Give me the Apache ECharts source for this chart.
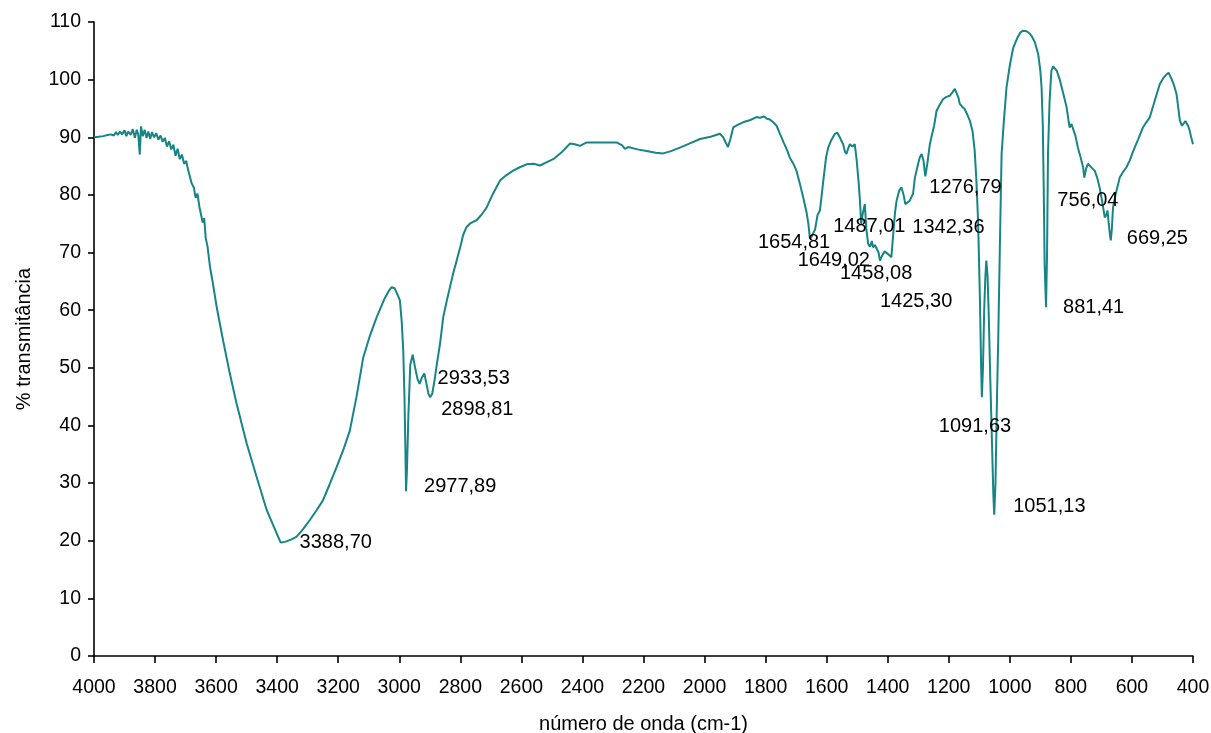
<!DOCTYPE html>
<html>
<head>
<meta charset="utf-8">
<title>Espectro FTIR</title>
<script src="https://cdn.jsdelivr.net/npm/echarts@6/dist/echarts.min.js"></script>
<style>
  html, body { margin: 0; padding: 0; background: #ffffff; }
  #chart { width: 1211px; height: 733px; }
</style>
</head>
<body>
<div id="chart"></div>
<script>
// Espectro de infravermelho: número de onda (cm-1) e % de transmitância
const wavenumbers = [
  4000, 3985, 3970, 3955, 3945, 3935, 3928, 3922, 3915, 3908, 3900, 3894, 3888, 3880, 3873, 3866,
  3860, 3855, 3850, 3846, 3840, 3834, 3828, 3822, 3816, 3810, 3803, 3796, 3789, 3782, 3775, 3768,
  3761, 3754, 3747, 3740, 3733, 3726, 3719, 3712, 3705, 3698, 3692, 3686, 3680, 3673, 3667, 3661,
  3655, 3649, 3644, 3639, 3634, 3628, 3620, 3610, 3598, 3577, 3555, 3533, 3500, 3467, 3434, 3402,
  3388.70, 3374, 3355, 3336, 3315, 3293, 3272, 3250, 3228, 3205, 3183, 3162, 3140, 3118, 3096, 3074,
  3050, 3035, 3025, 3015, 3005, 2998, 2992, 2987, 2983, 2980, 2977.89, 2975, 2970, 2964, 2956, 2948,
  2940, 2933.53, 2926, 2918, 2910, 2904, 2898.81, 2892, 2884, 2876, 2867, 2860, 2856, 2845, 2834, 2823,
  2812, 2800, 2791, 2780, 2769, 2755, 2747, 2730, 2714, 2695, 2670, 2650, 2627, 2605, 2583, 2560,
  2539, 2520, 2496, 2470, 2450, 2441, 2425, 2408, 2386, 2350, 2320, 2288, 2270, 2261, 2250, 2245,
  2220, 2190, 2160, 2136, 2110, 2081, 2050, 2015, 1980, 1950, 1939, 1930, 1923, 1915, 1906, 1890,
  1874, 1850, 1830, 1819, 1805, 1795, 1786, 1775, 1764, 1753, 1740, 1730, 1721, 1710, 1699, 1688,
  1677, 1666, 1660, 1654.81, 1649.02, 1644, 1638, 1630, 1622, 1612, 1602, 1595, 1585, 1573, 1565, 1557,
  1551, 1546, 1540, 1535, 1530, 1524, 1516, 1508, 1502, 1495, 1491, 1487.01, 1481, 1475, 1470, 1464,
  1458.08, 1452, 1448, 1442, 1437, 1430, 1425.30, 1418, 1410, 1404, 1396, 1388, 1382, 1376, 1371, 1362,
  1355, 1348, 1342.36, 1336, 1328, 1317, 1311, 1300, 1295, 1289, 1283, 1276.79, 1270, 1262, 1257, 1248,
  1240, 1230, 1219, 1208, 1197, 1188, 1180, 1174, 1168, 1164, 1156, 1148, 1140, 1131, 1122, 1115,
  1110, 1104, 1098, 1094, 1091.63, 1088, 1084, 1080, 1077, 1073, 1069, 1064, 1058, 1054, 1051.13, 1047,
  1042, 1038, 1033, 1027, 1020, 1011, 1000, 989, 975, 965, 957, 945, 935, 929, 918, 907,
  900, 896, 892, 889, 886, 881.41, 878, 875, 870, 864, 858, 853, 846, 837, 826, 814,
  808, 804, 798, 793, 785, 777, 768, 760, 756.04, 750, 744, 738, 730, 722, 714, 706,
  698, 689, 684, 680, 676, 672, 669.25, 666, 662, 654, 640, 629, 618, 607, 596, 580,
  564, 553, 542, 530, 520, 509, 498, 487, 480, 470, 462, 454, 448, 443, 436, 431,
  425, 420, 416, 411, 406, 400
];

const transmittance = [
  90.0, 90.1, 90.2, 90.4, 90.5, 90.3, 90.9, 90.4, 91.0, 90.5, 91.2, 90.2, 91.0, 90.4, 91.4, 89.9,
  91.3, 90.5, 87.0, 91.9, 90.2, 91.3, 89.9, 91.0, 89.7, 90.9, 90.0, 90.7, 89.6, 90.3, 89.2, 89.9,
  88.4, 89.3, 87.9, 88.7, 86.8, 88.0, 86.2, 87.0, 85.4, 85.9, 84.4, 83.2, 82.0, 81.3, 79.5, 80.2,
  78.0, 77.8, 75.2, 76.0, 72.5, 71.0, 67.5, 64.5, 60.5, 54.7, 49.0, 43.8, 36.9, 31.0, 25.3, 21.3,
  19.7, 19.8, 20.2, 20.7, 22.0, 23.6, 25.2, 27.0, 29.8, 32.8, 35.8, 39.1, 45.0, 51.8, 55.6, 58.8,
  61.8, 63.3, 64.0, 63.8, 62.6, 61.7, 58.0, 53.0, 45.0, 36.0, 28.6, 32.0, 42.0, 50.5, 52.3, 50.0,
  48.0, 47.2, 48.3, 49.0, 47.0, 45.4, 44.9, 45.5, 48.0, 51.0, 54.0, 57.0, 58.8, 61.5, 64.0, 66.5,
  68.6, 71.0, 73.0, 74.4, 75.0, 75.4, 75.6, 76.6, 77.8, 80.0, 82.5, 83.4, 84.2, 84.8, 85.3, 85.4,
  85.1, 85.6, 86.2, 87.3, 88.4, 88.9, 88.8, 88.5, 89.1, 89.1, 89.1, 89.1, 88.6, 88.0, 88.3, 88.3,
  87.9, 87.6, 87.3, 87.2, 87.6, 88.2, 88.9, 89.7, 90.1, 90.6, 90.0, 89.0, 88.3, 89.8, 91.7, 92.2,
  92.6, 93.0, 93.5, 93.4, 93.6, 93.2, 93.1, 92.6, 92.0, 90.6, 89.0, 87.8, 86.5, 85.5, 84.2, 82.0,
  79.6, 77.0, 75.0, 72.4, 72.8, 72.6, 74.0, 76.5, 77.3, 82.0, 86.5, 88.2, 89.5, 90.6, 90.8, 90.0,
  89.3, 88.8, 87.5, 87.1, 88.0, 88.8, 88.4, 88.8, 86.2, 82.0, 79.0, 75.0, 77.0, 78.4, 74.0, 71.5,
  71.0, 72.0, 70.9, 71.3, 71.5, 70.0, 68.6, 69.5, 70.2, 70.3, 69.6, 69.2, 73.2, 77.0, 79.0, 80.8,
  81.3, 80.0, 78.4, 78.3, 79.0, 80.2, 83.0, 85.5, 86.5, 87.1, 86.0, 83.2, 85.5, 88.8, 90.0, 92.0,
  94.6, 95.6, 96.6, 97.0, 97.2, 97.8, 98.4, 98.2, 96.8, 95.8, 95.3, 94.9, 94.0, 92.9, 91.0, 87.6,
  83.0, 75.5, 62.0, 50.0, 44.9, 50.0, 60.0, 66.0, 68.6, 66.0, 59.0, 48.0, 36.0, 28.0, 24.5, 30.0,
  45.0, 55.0, 70.0, 87.1, 92.5, 98.6, 102.5, 105.5, 107.3, 108.2, 108.5, 108.4, 108.0, 107.6, 106.5, 104.4,
  101.5, 98.6, 92.0, 81.3, 68.0, 60.5, 70.0, 87.1, 96.0, 101.5, 102.3, 102.1, 101.5, 100.1, 97.8, 95.2,
  93.0, 91.7, 92.3, 92.0, 90.2, 88.2, 86.5, 84.8, 83.0, 84.6, 85.4, 85.3, 84.6, 84.2, 83.0, 81.3,
  79.0, 76.1, 76.5, 77.3, 75.0, 73.0, 72.1, 74.0, 77.8, 80.0, 83.0, 84.0, 84.8, 86.0, 87.6, 89.6,
  91.7, 92.6, 93.4, 95.5, 97.3, 99.2, 100.2, 100.9, 101.2, 100.1, 99.0, 97.5, 95.0, 92.9, 92.0, 92.3,
  92.8, 92.9, 92.0, 91.2, 90.0, 88.8
];

// Bandas identificadas (cm-1)
const peakWavenumbers = [
  3388.70, 2977.89, 2933.53, 2898.81, 1654.81, 1649.02, 1487.01, 1458.08,
  1425.30, 1342.36, 1276.79, 1091.63, 1051.13, 881.41, 756.04, 669.25
];

// Deslocamento de cada rótulo em relação à sua banda (px)
const peakLabelOffsets = [
  [19, 0], [18, -5], [18, -5], [11, 12], [-52, 4], [-14, 24], [-28, 3], [-30, 27],
  [0, 41], [7, 23], [4, 11], [-43, 29], [19, -8], [17, 0], [-27, 23], [16, -2]
];

const xTicks = { min: 400, max: 4000, step: 200 };
const yTicks = { min: 0, max: 110, step: 10 };

const spectrum = wavenumbers.map((w, i) => [w, transmittance[i]]);

const peakPoints = peakWavenumbers.map((w, i) => {
  const idx = wavenumbers.indexOf(w);
  return {
    value: [w, transmittance[idx]],
    label: { offset: peakLabelOffsets[i] }
  };
});

const fontFamily = '"Liberation Sans", Arial, Helvetica, sans-serif';
const textColor = '#000';

const chart = echarts.init(document.getElementById('chart'), null, { renderer: 'canvas' });

chart.setOption({
  animation: false,
  backgroundColor: '#ffffff',
  grid: {
    left: 94, right: 18, top: 22, bottom: 77,
    containLabel: false,
    outerBoundsMode: 'none'
  },
  xAxis: {
    type: 'value',
    inverse: true,
    min: xTicks.min,
    max: xTicks.max,
    interval: xTicks.step,
    name: 'número de onda (cm-1)',
    nameLocation: 'middle',
    nameGap: 58,
    nameTextStyle: { fontFamily, fontSize: 20, color: textColor },
    axisLine: { show: true, onZero: false, lineStyle: { color: '#000', width: 1.6 } },
    axisTick: { show: true, length: 7, lineStyle: { color: '#000', width: 1.6 } },
    axisLabel: {
      fontFamily, fontSize: 19.5, color: textColor, margin: 22,
      formatter: v => String(v)
    },
    splitLine: { show: false }
  },
  yAxis: {
    type: 'value',
    min: yTicks.min,
    max: yTicks.max,
    interval: yTicks.step,
    name: '% transmitância',
    nameLocation: 'middle',
    nameGap: 60,
    nameTextStyle: { fontFamily, fontSize: 20, color: textColor },
    axisLine: { show: true, lineStyle: { color: '#000', width: 1.6 } },
    axisTick: { show: true, length: 6, lineStyle: { color: '#000', width: 1.6 } },
    axisLabel: {
      fontFamily, fontSize: 19.5, color: textColor, margin: 13,
      formatter: v => String(v)
    },
    splitLine: { show: false }
  },
  series: [
    {
      name: 'espectro',
      type: 'line',
      data: spectrum,
      showSymbol: false,
      symbol: 'none',
      lineStyle: { color: '#178585', width: 2 },
      emphasis: { disabled: true },
      z: 2
    },
    {
      name: 'bandas',
      type: 'scatter',
      data: peakPoints,
      symbolSize: 0.1,
      itemStyle: { color: '#ffffff', opacity: 0 },
      label: {
        show: true,
        position: 'inside',
        align: 'left',
        verticalAlign: 'middle',
        fontFamily,
        fontSize: 20,
        color: textColor,
        opacity: 1,
        textBorderWidth: 0,
        formatter: p => p.value[0].toFixed(2).replace('.', ',')
      },
      emphasis: { disabled: true },
      silent: true,
      z: 3
    }
  ]
});
</script>
</body>
</html>
